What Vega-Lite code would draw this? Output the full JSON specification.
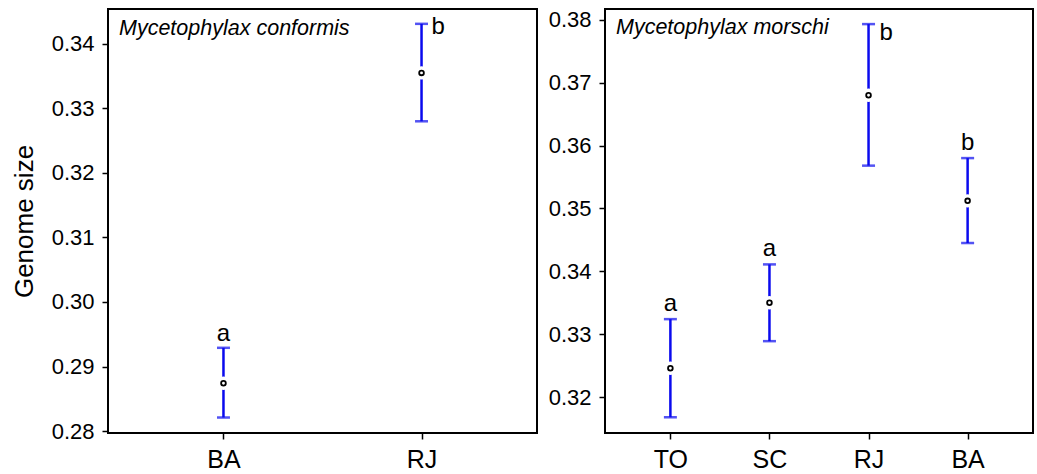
{
  "$schema": "https://vega.github.io/schema/vega-lite/v6.json",
  "background": "white",
  "padding": {"left": 10, "top": 7, "right": 5, "bottom": 0},
  "spacing": 9,
  "config": {
    "font": "Liberation Sans",
    "view": {"stroke": "black", "strokeWidth": 2},
    "axis": {
      "labelFont": "Liberation Sans", "labelFontSize": 22, "labelColor": "black",
      "titleFont": "Liberation Sans", "titleFontSize": 26, "titleFontWeight": "normal", "titleColor": "black",
      "tickColor": "black", "tickWidth": 1.5, "tickSize": 6, "labelPadding": 8,
      "domain": false, "grid": false
    },
    "text": {"font": "Liberation Sans", "fontSize": 24, "color": "black"}
  },
  "datasets": {
    "gs": [
      {"species": "Mycetophylax conformis", "site": "BA", "mean": 0.2874, "lower": 0.2821, "upper": 0.2929, "group": "a"},
      {"species": "Mycetophylax conformis", "site": "RJ", "mean": 0.3355, "lower": 0.3280, "upper": 0.3431, "group": "b"},
      {"species": "Mycetophylax morschi", "site": "TO", "mean": 0.3246, "lower": 0.3168, "upper": 0.3324, "group": "a"},
      {"species": "Mycetophylax morschi", "site": "SC", "mean": 0.3350, "lower": 0.3289, "upper": 0.3411, "group": "a"},
      {"species": "Mycetophylax morschi", "site": "RJ", "mean": 0.3680, "lower": 0.3568, "upper": 0.3793, "group": "b"},
      {"species": "Mycetophylax morschi", "site": "BA", "mean": 0.3512, "lower": 0.3445, "upper": 0.3580, "group": "b"}
    ]
  },
  "hconcat": [
    {
      "width": 429, "height": 424,
      "data": {"name": "gs"},
      "transform": [{"filter": "datum.species == 'Mycetophylax conformis'"}],
      "title": {"text": "Mycetophylax conformis", "anchor": "start", "frame": "group", "orient": "top", "offset": -30, "dx": 11, "fontStyle": "italic", "fontWeight": "normal", "font": "Liberation Sans", "fontSize": 21.5, "color": "black"},
      "encoding": {
        "x": {"field": "site", "type": "nominal", "sort": ["BA", "RJ"], "scale": {"type": "point", "padding": 0.583}, "axis": {"title": null, "labelAngle": 0, "labelFontSize": 25}}
      },
      "layer": [
        {"mark": {"type": "rule", "color": "#0a0aee", "strokeWidth": 2.5},
         "encoding": {"y": {"field": "lower", "type": "quantitative", "scale": {"domain": [0.2797, 0.3454], "nice": false, "zero": false}, "axis": {"title": "Genome size", "values": [0.28, 0.29, 0.30, 0.31, 0.32, 0.33, 0.34], "format": ".2f", "titlePadding": 14}}, "y2": {"field": "upper"}}},
        {"mark": {"type": "tick", "color": "#0a0aee", "thickness": 2.5, "size": 13}, "encoding": {"y": {"field": "upper", "type": "quantitative"}}},
        {"mark": {"type": "tick", "color": "#0a0aee", "thickness": 2.5, "size": 13}, "encoding": {"y": {"field": "lower", "type": "quantitative"}}},
        {"mark": {"type": "point", "shape": "circle", "filled": true, "color": "white", "opacity": 1, "size": 180}, "encoding": {"y": {"field": "mean", "type": "quantitative"}}},
        {"mark": {"type": "point", "shape": "circle", "filled": false, "fill": "white", "stroke": "black", "strokeWidth": 1.8, "opacity": 1, "size": 22}, "encoding": {"y": {"field": "mean", "type": "quantitative"}}},
        {"transform": [{"filter": "datum.site != 'RJ'"}], "mark": {"type": "text", "baseline": "alphabetic", "align": "center", "dy": -7}, "encoding": {"y": {"field": "upper", "type": "quantitative"}, "text": {"field": "group"}}},
        {"transform": [{"filter": "datum.site == 'RJ'"}], "mark": {"type": "text", "baseline": "alphabetic", "align": "left", "dx": 10, "dy": 10}, "encoding": {"y": {"field": "upper", "type": "quantitative"}, "text": {"field": "group"}}}
      ]
    },
    {
      "width": 428, "height": 424,
      "data": {"name": "gs"},
      "transform": [{"filter": "datum.species == 'Mycetophylax morschi'"}],
      "title": {"text": "Mycetophylax morschi", "anchor": "start", "frame": "group", "orient": "top", "offset": -30, "dx": 11, "fontStyle": "italic", "fontWeight": "normal", "font": "Liberation Sans", "fontSize": 21.5, "color": "black"},
      "encoding": {
        "x": {"field": "site", "type": "nominal", "sort": ["TO", "SC", "RJ", "BA"], "scale": {"type": "point", "padding": 0.66}, "axis": {"title": null, "labelAngle": 0, "labelFontSize": 25}}
      },
      "layer": [
        {"mark": {"type": "rule", "color": "#0a0aee", "strokeWidth": 2.5},
         "encoding": {"y": {"field": "lower", "type": "quantitative", "scale": {"domain": [0.3143, 0.3817], "nice": false, "zero": false}, "axis": {"title": null, "values": [0.32, 0.33, 0.34, 0.35, 0.36, 0.37, 0.38], "format": ".2f"}}, "y2": {"field": "upper"}}},
        {"mark": {"type": "tick", "color": "#0a0aee", "thickness": 2.5, "size": 13}, "encoding": {"y": {"field": "upper", "type": "quantitative"}}},
        {"mark": {"type": "tick", "color": "#0a0aee", "thickness": 2.5, "size": 13}, "encoding": {"y": {"field": "lower", "type": "quantitative"}}},
        {"mark": {"type": "point", "shape": "circle", "filled": true, "color": "white", "opacity": 1, "size": 180}, "encoding": {"y": {"field": "mean", "type": "quantitative"}}},
        {"mark": {"type": "point", "shape": "circle", "filled": false, "fill": "white", "stroke": "black", "strokeWidth": 1.8, "opacity": 1, "size": 22}, "encoding": {"y": {"field": "mean", "type": "quantitative"}}},
        {"transform": [{"filter": "datum.site != 'RJ'"}], "mark": {"type": "text", "baseline": "alphabetic", "align": "center", "dy": -8}, "encoding": {"y": {"field": "upper", "type": "quantitative"}, "text": {"field": "group"}}},
        {"transform": [{"filter": "datum.site == 'RJ'"}], "mark": {"type": "text", "baseline": "alphabetic", "align": "left", "dx": 11, "dy": 16}, "encoding": {"y": {"field": "upper", "type": "quantitative"}, "text": {"field": "group"}}}
      ]
    }
  ]
}
